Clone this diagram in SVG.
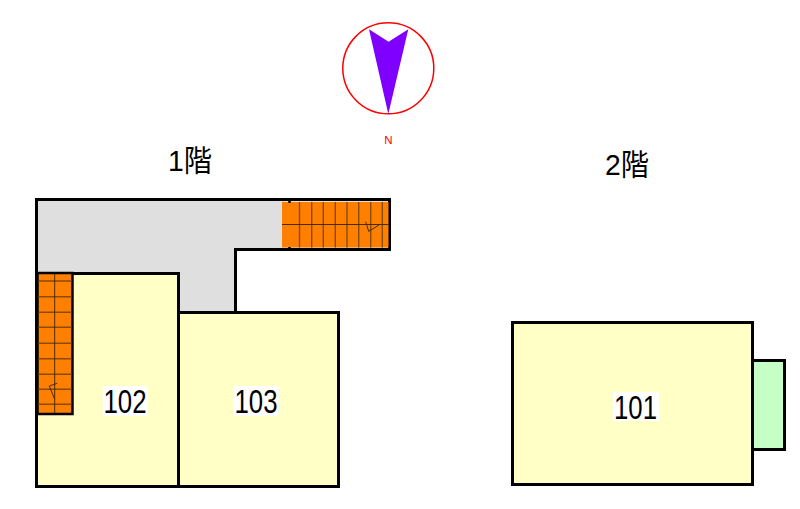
<svg xmlns="http://www.w3.org/2000/svg" width="800" height="509" viewBox="0 0 800 509">
<style>
.o{stroke:#000;stroke-width:3;stroke-linejoin:miter}
.room{fill:#ffffc6}
.st{fill:#ff8000}
.g{stroke:#8a4a00;stroke-width:1.4;fill:none}
.d{stroke:#4a2a00;stroke-width:1;fill:none}
text{font-family:"Liberation Sans","Noto Sans CJK JP",sans-serif;fill:#000}
.lbl{font-size:30px}
.r{font-size:33px}
.bg{fill:#fff}
</style>
<rect width="800" height="509" fill="#fff"/>
<g id="compass">
<circle cx="388.300" cy="68.300" r="45.500" fill="#fff" stroke="#f00" stroke-width="1.500"/>
<polygon points="369,29.300 388.600,41.700 408.300,29.300 388.300,114" fill="#7f00ff"/>
<text x="384.200" y="144.400" font-size="11.500" style="fill:#f00">N</text>
</g>
<g id="floor1-title"><text class="lbl" x="168" y="170.500" textLength="44" lengthAdjust="spacingAndGlyphs">1階</text></g>
<g id="floor2-title"><text class="lbl" x="605" y="174.500" textLength="44" lengthAdjust="spacingAndGlyphs">2階</text></g>
<g id="corridor">
<polygon class="o" points="36.500,199.500 389.500,199.500 389.500,249.500 235.500,249.500 235.500,312.500 178.500,312.500 178.500,273.500 36.500,273.500" fill="#dfdfdf"/>
</g>
<g id="room-102">
<polygon class="o room" points="36.500,273.500 178.500,273.500 178.500,486.500 36.500,486.500"/>
<rect class="bg" x="102.700" y="386" width="45" height="30"/>
<text class="r" x="103.500" y="412.700" textLength="43" lengthAdjust="spacingAndGlyphs">102</text>
</g>
<g id="room-103">
<rect class="o room" x="178.500" y="312.500" width="160" height="174"/>
<rect class="bg" x="233.300" y="386" width="45.400" height="30"/>
<text class="r" x="234.500" y="412.700" textLength="43" lengthAdjust="spacingAndGlyphs">103</text>
</g>
<g id="stair-upper">
<rect x="282" y="202" width="106.500" height="45.500" class="st"/>
<path class="g" d="M299.500 202V247.500M311.700 202V247.500M323.300 202V247.500M335.300 202V247.500M347 202V247.500M358.700 202V247.500M370.700 202V247.500M382.300 202V247.500"/>
<path class="d" d="M282 224.500H388.500M365.700 221.700L368.700 231.300L379 225"/>
<path d="M289.500 200V203M289.500 247V250" stroke="#000" stroke-width="2.500"/>
</g>
<g id="stair-lower">
<rect x="37.500" y="273" width="35" height="141" fill="#ff8000" stroke="#000" stroke-width="2.500"/>
<path class="g" d="M38.500 281H71.500M38.500 296.700H71.500M38.500 312.300H71.500M38.500 327.300H71.500M38.500 343.300H71.500M38.500 358.700H71.500M38.500 374.300H71.500M38.500 389.300H71.500M38.500 404.300H71.500"/>
<path class="d" d="M54.700 274V413M57.300 383.300L49.300 386L54.700 399.300"/>
</g>
<g id="balcony"><rect class="o" x="752.500" y="360.500" width="32" height="89" fill="#c6ffc6"/></g>
<g id="room-101">
<rect class="o room" x="512.500" y="322.500" width="240" height="162"/>
<rect class="bg" x="612.700" y="392" width="46.300" height="29"/>
<text class="r" x="614" y="418.500" textLength="43" lengthAdjust="spacingAndGlyphs">101</text>
</g>
<g id="connectors"></g>
</svg>
